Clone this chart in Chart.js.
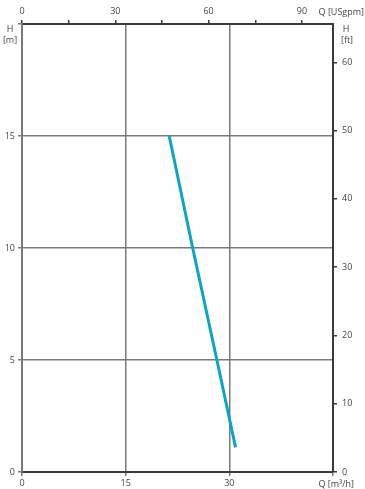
<!DOCTYPE html>
<html>
<head>
<meta charset="utf-8">
<script src="https://cdn.jsdelivr.net/npm/chart.js@4/dist/chart.umd.min.js"></script>
<style>
  html, body { margin: 0; padding: 0; background: #fff; }
  #wrap { width: 365px; height: 489px; position: relative; }
</style>
</head>
<body>
<div id="wrap"><canvas id="chart"></canvas></div>
<script>
// Pump curve data (Q in m3/h, H in m)
const flowM3h = [21.3, 24.7, 28.2, 30.9];
const headM = [15, 10, 5, 1.1];

// Axis ticks
const bottomTicks = [0, 15, 30, 45];
const topTicks = [0, 15, 30, 45, 60, 75, 90];
const leftTicks = [0, 5, 10, 15, 20];
const rightTicks = [0, 10, 20, 30, 40, 50, 60];

const gridGray = '#7a7a7a';
const axisDark = '#3a3a3a';
const textColor = '#444';
const tickFont = { family: 'Open Sans', size: 9 };

const setTicks = list => axis => { axis.ticks = list.map(v => ({ value: v })); };
const hideAt = (vals, color) => c => vals.includes(c.tick.value) ? 'rgba(0,0,0,0)' : color;

// Axis unit labels
const unitLabels = {
  id: 'unitLabels',
  afterDraw(chart) {
    const ctx = chart.ctx;
    ctx.save();
    ctx.fillStyle = textColor;
    ctx.font = '9px "Open Sans"';
    ctx.textBaseline = 'middle';
    ctx.textAlign = 'center';
    ctx.fillText('H', 10, 29);
    ctx.fillText('[m]', 10, 40);
    ctx.fillText('H', 346, 29);
    ctx.fillText('[ft]', 347, 40);
    ctx.textAlign = 'right';
    ctx.fillText('Q [USgpm]', 364, 12);
    ctx.fillText('Q [m³/h]', 354, 484);
    ctx.restore();
  }
};

new Chart(document.getElementById('chart'), {
  type: 'scatter',
  data: {
    datasets: [{
      data: flowM3h.map((q, i) => ({ x: q, y: headM[i] })),
      showLine: true,
      borderColor: '#0ba5c4',
      borderWidth: 3,
      pointRadius: 0,
      tension: 0
    }]
  },
  options: {
    responsive: true,
    maintainAspectRatio: false,
    animation: false,
    layout: { padding: 0 },
    plugins: { legend: { display: false }, tooltip: { enabled: false } },
    scales: {
      x: {
        type: 'linear', position: 'bottom', min: 0, max: 45,
        afterFit: s => { s.height = 17; },
        afterBuildTicks: setTicks(bottomTicks),
        ticks: {
          color: textColor, font: tickFont, padding: 2, maxRotation: 0,
          callback: v => v === 45 ? '' : v
        },
        grid: { color: hideAt([0, 45], gridGray), tickColor: gridGray, lineWidth: 1.5, tickLength: 4 },
        border: { color: axisDark, width: 2 }
      },
      x2: {
        type: 'linear', position: 'top', min: 0, max: 100,
        afterFit: s => { s.height = 24; },
        afterBuildTicks: setTicks(topTicks),
        ticks: {
          color: textColor, font: tickFont, padding: 3, maxRotation: 0,
          callback: v => v % 30 === 0 ? v : ''
        },
        grid: { drawOnChartArea: false, tickColor: axisDark, lineWidth: 1.5, tickLength: 4 },
        border: { color: axisDark, width: 2 }
      },
      y: {
        type: 'linear', position: 'left', min: 0, max: 20,
        afterFit: s => { s.width = 22; },
        afterBuildTicks: setTicks(leftTicks),
        ticks: {
          color: textColor, font: tickFont, padding: 3,
          callback: v => v === 20 ? '' : v
        },
        grid: { color: hideAt([0, 20], gridGray), tickColor: gridGray, lineWidth: 1.5, tickLength: 4 },
        border: { color: gridGray, width: 2 }
      },
      y2: {
        type: 'linear', position: 'right', min: 0, max: 20 * 3.28084,
        afterFit: s => { s.width = 32; },
        afterBuildTicks: setTicks(rightTicks),
        ticks: { color: textColor, font: tickFont, padding: 5 },
        grid: { drawOnChartArea: false, tickColor: axisDark, lineWidth: 1.5, tickLength: 4 },
        border: { color: axisDark, width: 2 }
      }
    }
  },
  plugins: [unitLabels]
});
</script>
</body>
</html>
